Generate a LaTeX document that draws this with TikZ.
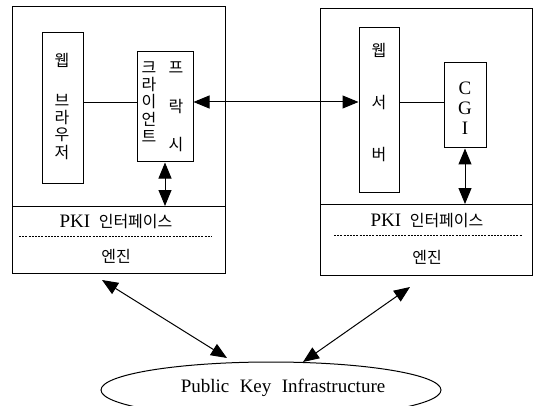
\documentclass[tikz,border=0pt]{standalone}
\usepackage{fontspec}
\setmainfont{Liberation Serif}
\newfontfamily\kr{Noto Sans CJK KR}
\usetikzlibrary{arrows.meta,shapes.geometric}
\begin{document}
\begin{tikzpicture}[x=1pt,y=-1pt,
  box/.style={draw,line width=1pt,inner sep=0pt,rectangle},
  ko/.style={font=\kr\fontsize{16}{18}\selectfont,inner sep=0pt},
  la/.style={font=\fontsize{19}{21}\selectfont,inner sep=0pt},
  conn/.style={line width=1pt},
  dbl/.style={line width=1pt,{Triangle[length=16pt,width=13pt]}-{Triangle[length=16pt,width=13pt]}}]
\useasboundingbox (0,0) rectangle (540,406);
% outer boxes
\node[box,minimum width=213pt,minimum height=266pt] (lbox) at (118.5,140) {};
\node[box,minimum width=212pt,minimum height=266pt] (rbox) at (426,142) {};
% separators
\coordinate (lsepL) at (12,206); \coordinate (lsepR) at (225,206);
\coordinate (rsepL) at (320,204); \coordinate (rsepR) at (532,204);
\draw[conn] (lsepL) -- (lsepR);
\draw[conn] (rsepL) -- (rsepR);
\coordinate (ldashL) at (19,236); \coordinate (ldashR) at (212,236);
\coordinate (rdashL) at (334,235); \coordinate (rdashR) at (522,235);
\draw[line width=0.7pt,dash pattern=on 2pt off 1.2pt] (ldashL) -- (ldashR);
\draw[line width=0.7pt,dash pattern=on 2pt off 1.2pt] (rdashL) -- (rdashR);
\node[inner sep=0pt] (lpki) at (116,222) {\fontsize{19}{21}\selectfont PKI\hspace{0.45em}{\kr\fontsize{16}{18}\selectfont 인터페이스}};
\node[ko] (lengine) at (116,256) {엔진};
\node[inner sep=0pt] (rpki) at (427,221) {\fontsize{19}{21}\selectfont PKI\hspace{0.45em}{\kr\fontsize{16}{18}\selectfont 인터페이스}};
\node[ko] (rengine) at (427,257) {엔진};
% inner boxes
\node[box,minimum width=41pt,minimum height=150pt] (browser) at (62.5,108) {};
\node[box,minimum width=56pt,minimum height=110pt] (proxy) at (165,107) {};
\node[box,minimum width=40pt,minimum height=164pt] (server) at (379,110) {};
\node[box,minimum width=42pt,minimum height=85pt] (cgi) at (465,105.5) {};
% browser text
\node[ko] (b1) at (62,60) {웹};
\node[ko] (b2) at (62,100) {브};
\node[ko] (b3) at (62,117.5) {라};
\node[ko] (b4) at (62,135) {우};
\node[ko] (b5) at (62,153) {저};
% proxy text
\node[ko] (p1) at (149,68) {크};
\node[ko] (p2) at (149,85) {라};
\node[ko] (p3) at (149,102) {이};
\node[ko] (p4) at (149,119.5) {언};
\node[ko] (p5) at (149,137) {트};
\node[ko] (q1) at (176,68) {프};
\node[ko] (q2) at (176,107) {락};
\node[ko] (q3) at (176,145) {시};
% server text
\node[ko] (s1) at (379,50) {웹};
\node[ko] (s2) at (379,103) {서};
\node[ko] (s3) at (379,155) {버};
% CGI text
\node[la] (c1) at (465,88) {C};
\node[la] (c2) at (465,108) {G};
\node[la] (c3) at (465,128) {I};
% connectors
\draw[conn] (browser.east |- 0,103) -- (proxy.west |- 0,103);
\draw[conn] (server.east |- 0,103) -- (cgi.west |- 0,103);
\draw[dbl] (proxy.east |- 0,102) -- (server.west |- 0,102);
\draw[dbl] (proxy.south) -- (proxy.south |- lsepL);
\draw[dbl] (cgi.south) -- (cgi.south |- rsepL);
% PKI ellipse
\node[draw,ellipse,line width=1pt,minimum width=340pt,minimum height=56pt,inner sep=0pt] (pki) at (271,390) {};
\node[la] (pkitext) at (283,388) {Public\hspace{0.3em} Key\hspace{0.3em} Infrastructure};
\coordinate (la1) at (102,280); \coordinate (la2) at (227,358);
\coordinate (ra1) at (410,287); \coordinate (ra2) at (303,362);
\draw[dbl] (la1) -- (la2);
\draw[dbl] (ra1) -- (ra2);
\end{tikzpicture}
\end{document}
